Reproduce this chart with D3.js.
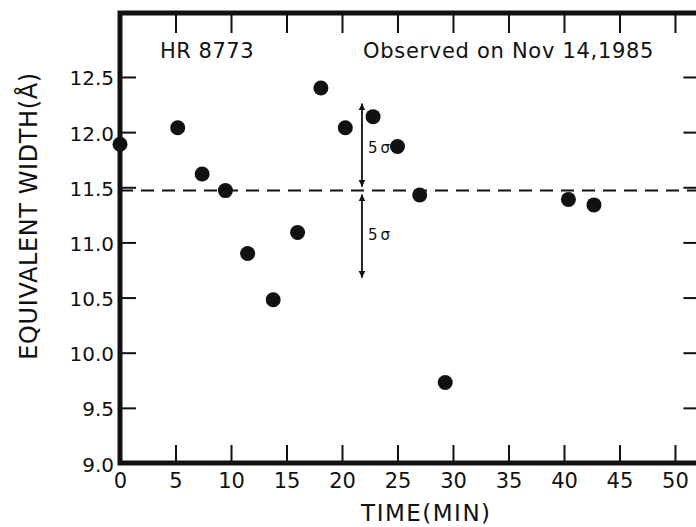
<!DOCTYPE html>
<html>
<head>
<meta charset="utf-8">
<script src="https://cdn.jsdelivr.net/npm/d3@7"></script>
<style>
  html, body { margin: 0; padding: 0; background: #fff; }
  svg { display: block; }
  text { font-family: "DejaVu Sans", sans-serif; fill: #111; }
</style>
</head>
<body>
<script>
// ---- data ----
const times  = [0, 5.2, 7.4, 9.5, 11.5, 13.8, 16.0, 18.1, 20.3, 22.8, 25.0, 27.0, 29.3, 40.4, 42.7];
const widths = [11.89, 12.04, 11.62, 11.47, 10.90, 10.48, 11.09, 12.40, 12.04, 12.14, 11.87, 11.43, 9.73, 11.39, 11.34];
const meanWidth = 11.47;
const fiveSigma = 0.79;
const arrowTime = 21.8;
const xTickValues = [0, 5, 10, 15, 20, 25, 30, 35, 40, 45, 50];
const yTickValues = [9.0, 9.5, 10.0, 10.5, 11.0, 11.5, 12.0, 12.5];
const starName = "HR 8773";
const obsNote = "Observed on Nov 14,1985";
const xTitle = "TIME(MIN)";
const yTitle = "EQUIVALENT WIDTH(Å)";

const W = 696, H = 527;
const svg = d3.select("body").append("svg").attr("width", W).attr("height", H);

const x = d3.scaleLinear().domain([0, 52.2]).range([120, 699.4]);
const y = d3.scaleLinear().domain([9, 13.08]).range([463, 13]);

const ink = "#111";

// dashed mean line
svg.append("line")
  .attr("x1", x(0)).attr("x2", x(52.2))
  .attr("y1", y(meanWidth)).attr("y2", y(meanWidth))
  .attr("stroke", ink).attr("stroke-width", 2)
  .attr("stroke-dasharray", "13,8");

// axes
function styleAxis(g) {
  g.select(".domain").remove();
  g.selectAll(".tick line").attr("stroke", ink).attr("stroke-width", 2);
}
svg.append("g").attr("transform", `translate(0,${y(9)})`)
  .call(d3.axisBottom(x).tickValues(xTickValues).tickSizeInner(-18).tickSizeOuter(0).tickPadding(10).tickFormat(d3.format("d")))
  .call(styleAxis)
  .call(g => g.selectAll("text").style("font-size", "21px").style("font-family", "DejaVu Sans, sans-serif").attr("fill", ink));

svg.append("g").attr("transform", `translate(0,${y(13.08)})`)
  .call(d3.axisTop(x).tickValues(xTickValues.filter(d => d > 0)).tickSizeInner(-20).tickSizeOuter(0).tickFormat(""))
  .call(styleAxis);

svg.append("g").attr("transform", `translate(${x(0)},0)`)
  .call(d3.axisLeft(y).tickValues(yTickValues).tickSizeInner(-16).tickSizeOuter(0).tickPadding(6).tickFormat(d3.format(".1f")))
  .call(styleAxis)
  .call(g => g.selectAll("text").style("font-size", "20px").style("font-family", "DejaVu Sans, sans-serif").attr("fill", ink).attr("dy", "0.4em"));

svg.append("g").attr("transform", `translate(${x(52.2)},0)`)
  .call(d3.axisRight(y).tickValues(yTickValues.filter(d => d > 9)).tickSizeInner(-16).tickSizeOuter(0).tickFormat(""))
  .call(styleAxis);

// frame
svg.append("rect")
  .attr("x", x(0)).attr("y", y(13.08))
  .attr("width", x(52.2) - x(0)).attr("height", y(9) - y(13.08))
  .attr("fill", "none").attr("stroke", ink).attr("stroke-width", 5);

// points
svg.append("g").selectAll("circle")
  .data(times.map((t, i) => ({ t, w: widths[i] })))
  .join("circle")
  .attr("cx", d => x(d.t)).attr("cy", d => y(d.w))
  .attr("r", 7.5).attr("fill", ink);

// 5 sigma arrows
const defs = svg.append("defs");
defs.append("marker").attr("id", "ah").attr("viewBox", "0 0 10 10")
  .attr("refX", 10).attr("refY", 5).attr("markerWidth", 7).attr("markerHeight", 9)
  .attr("markerUnits", "userSpaceOnUse").attr("orient", "auto")
  .append("path").attr("d", "M0,0 L10,5 L0,10 Z").attr("fill", ink);
defs.append("marker").attr("id", "ahs").attr("viewBox", "0 0 10 10")
  .attr("refX", 0).attr("refY", 5).attr("markerWidth", 7).attr("markerHeight", 9)
  .attr("markerUnits", "userSpaceOnUse").attr("orient", "auto")
  .append("path").attr("d", "M10,0 L0,5 L10,10 Z").attr("fill", ink);

const ax = x(arrowTime);
function arrow(v1, v2) {
  svg.append("line")
    .attr("x1", ax).attr("x2", ax)
    .attr("y1", y(v1)).attr("y2", y(v2))
    .attr("stroke", ink).attr("stroke-width", 1.8)
    .attr("marker-start", "url(#ahs)").attr("marker-end", "url(#ah)");
}
arrow(meanWidth + 0.035, meanWidth + fiveSigma);
arrow(meanWidth - 0.035, meanWidth - fiveSigma);

svg.append("text").attr("x", ax + 6).attr("y", y(meanWidth + fiveSigma * 0.5) + 6)
  .style("font-size", "15px").attr("letter-spacing", 3).text("5σ");
svg.append("text").attr("x", ax + 6).attr("y", y(meanWidth - fiveSigma * 0.5) + 6)
  .style("font-size", "15px").attr("letter-spacing", 3).text("5σ");

// annotations
svg.append("text").attr("x", 160).attr("y", 58)
  .style("font-size", "21px").attr("letter-spacing", 0.5).text(starName);
svg.append("text").attr("x", 363).attr("y", 58)
  .style("font-size", "21px").attr("letter-spacing", 0.7).text(obsNote);

// axis titles
svg.append("text").attr("x", x(27.6)).attr("y", 521)
  .attr("text-anchor", "middle").style("font-size", "23px").attr("letter-spacing", 1.5).text(xTitle);
svg.append("text").attr("transform", `translate(37,216) rotate(-90)`)
  .attr("text-anchor", "middle").style("font-size", "24px").attr("letter-spacing", 0.6).text(yTitle);
</script>
</body>
</html>
